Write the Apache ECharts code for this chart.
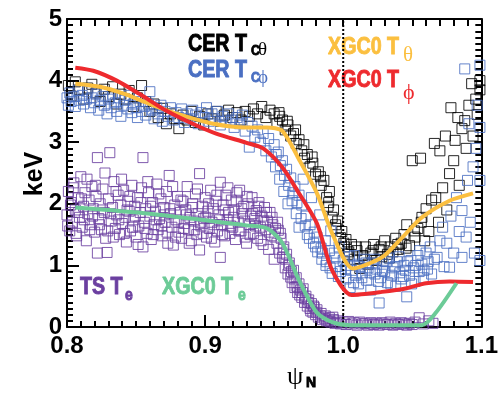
<!DOCTYPE html>
<html>
<head>
<meta charset="utf-8">
<script src="https://cdn.jsdelivr.net/npm/echarts@6/dist/echarts.min.js"></script>
<style>
html,body{margin:0;padding:0;background:#fff;}
#chart{width:501px;height:394px;}
</style>
</head>
<body>
<div id="chart"></div>
<script>
// ---- data ----
var xTicks = [0.8, 0.9, 1.0, 1.1];
var yTicks = [0, 1, 2, 3, 4, 5];
var separatrix = [[1.0, 0], [1.0, 5]];

var CER_Ttheta = [
[0.801,3.92],[0.803,3.75],[0.806,3.98],[0.809,3.85],[0.812,3.70],[0.815,3.88],[0.818,3.94],[0.821,3.80],[0.824,3.66],[0.827,3.86],
[0.830,3.74],[0.833,3.90],[0.836,3.62],[0.839,3.78],[0.842,3.70],[0.845,3.84],[0.848,3.58],[0.851,3.72],[0.854,3.92],[0.857,3.66],
[0.860,3.50],[0.863,3.62],[0.866,3.40],[0.869,3.55],[0.872,3.30],[0.875,3.46],[0.878,3.38],[0.881,3.22],[0.884,3.44],[0.887,3.36],
[0.890,3.50],[0.893,3.32],[0.896,3.42],[0.899,3.28],[0.902,3.46],[0.905,3.38],[0.908,3.50],[0.911,3.34],[0.914,3.44],[0.917,3.52],
[0.920,3.40],[0.923,3.48],[0.926,3.36],[0.929,3.50],[0.932,3.42],[0.935,3.54],[0.938,3.46],[0.941,3.58],[0.944,3.40],[0.947,3.52],
[0.950,3.46],[0.952,3.30],[0.954,3.42],[0.956,3.36],[0.958,3.20],[0.960,3.28],[0.962,3.10],[0.964,3.14],[0.966,2.98],[0.968,3.04],
[0.970,2.86],[0.972,2.74],[0.974,2.80],[0.976,2.60],[0.978,2.66],[0.980,2.48],[0.982,2.52],[0.984,2.30],[0.986,2.38],[0.988,2.10],
[0.989,1.96],[0.990,2.20],[0.992,1.78],[0.993,1.90],[0.995,1.60],[0.996,1.72],[0.998,1.45],[0.999,1.55],[1.001,1.30],[1.002,1.42],
[1.004,1.22],[1.006,1.34],[1.008,1.10],[1.010,1.24],[1.012,0.95],[1.014,1.16],[1.016,1.30],[1.018,1.02],[1.020,1.20],[1.022,1.34],
[1.024,1.08],[1.026,1.26],[1.028,1.14],[1.030,1.40],[1.032,1.18],[1.034,1.30],[1.036,1.22],[1.038,1.44],[1.040,1.26],[1.042,1.36],
[1.044,1.50],[1.046,1.66],[1.048,1.32],[1.050,2.70],[1.052,1.46],[1.054,1.60],[1.056,2.74],[1.057,1.78],[1.059,1.40],[1.060,1.92],
[1.062,1.55],[1.064,2.06],[1.066,2.98],[1.067,2.10],[1.069,1.70],[1.070,2.86],[1.072,2.26],[1.074,3.10],[1.075,1.90],[1.077,2.49],
[1.078,3.56],[1.080,2.70],[1.081,3.03],[1.083,3.40],[1.084,2.30],[1.086,3.22],[1.088,3.35],[1.089,2.90],[1.091,3.60],[1.093,3.95],
[1.094,3.10],[1.096,3.70],[1.097,3.45],[1.099,3.85],[1.099,4.00],
[0.9535,3.48],[0.9595,3.34],[0.9655,3.20],[0.9715,2.96],[0.9775,2.76],[0.9835,2.44],[0.9895,2.02],[0.9945,1.66],[1.0005,1.36],[1.0035,1.18],
[1.0095,1.30],[1.0155,1.10],[1.0215,1.24],[1.0275,1.30],[1.0335,1.12],[1.0395,1.34],[1.0455,1.28],[1.0515,1.56],[1.0565,1.70]
];

var CER_Tphi = [
[0.800,3.72],[0.801,3.60],[0.802,3.80],[0.803,3.66],[0.805,3.74],[0.806,3.58],[0.808,3.84],[0.809,3.68],[0.811,3.76],[0.812,3.62],
[0.814,3.70],[0.815,3.82],[0.817,3.56],[0.818,3.72],[0.820,3.64],[0.821,3.78],[0.823,3.52],[0.824,3.68],[0.826,3.74],[0.827,3.60],
[0.829,3.46],[0.830,3.70],[0.832,3.56],[0.833,3.78],[0.835,3.64],[0.836,3.50],[0.838,3.72],[0.839,3.42],[0.841,3.60],[0.842,3.68],
[0.844,3.54],[0.845,3.76],[0.847,3.48],[0.848,3.62],[0.850,3.56],[0.851,3.40],[0.853,3.66],[0.854,3.50],[0.856,3.58],[0.857,3.44],
[0.859,3.62],[0.860,3.82],[0.862,3.52],[0.863,3.38],[0.865,3.56],[0.866,3.46],[0.868,3.60],[0.869,3.34],[0.871,3.50],[0.873,3.42],
[0.875,3.56],[0.877,3.36],[0.879,3.48],[0.881,3.40],[0.883,3.54],[0.885,3.32],[0.887,3.46],[0.889,3.38],[0.891,3.52],[0.893,3.44],
[0.895,3.30],[0.897,3.48],[0.899,3.40],[0.901,3.56],[0.903,3.34],[0.905,3.46],[0.907,3.38],[0.909,3.50],[0.911,3.28],[0.913,3.42],
[0.915,3.34],[0.917,3.46],[0.919,3.36],[0.921,3.24],[0.923,3.40],[0.925,3.30],[0.927,3.44],[0.929,3.18],[0.931,3.32],[0.932,2.92],
[0.934,3.26],[0.936,3.08],[0.938,3.20],[0.940,3.00],[0.942,3.14],[0.944,2.86],[0.946,3.06],[0.948,2.76],[0.950,2.96],[0.951,2.60],
[0.953,2.84],[0.954,2.40],[0.956,2.70],[0.957,2.20],[0.959,2.56],[0.960,2.00],[0.962,2.42],[0.963,2.05],[0.965,2.28],[0.966,1.84],
[0.968,2.14],[0.968,1.62],[0.970,1.98],[0.971,2.40],[0.973,1.80],[0.974,1.50],[0.976,1.66],[0.977,2.10],[0.979,1.54],[0.980,1.30],
[0.981,1.46],[0.983,1.82],[0.984,1.28],[0.985,1.20],[0.987,1.40],[0.988,1.06],[0.990,1.24],[0.991,1.56],[0.992,0.87],[0.994,1.12],
[0.995,0.98],[0.997,1.30],[0.998,0.90],[1.000,1.08],[1.002,0.78],[1.003,1.00],[1.005,0.64],[1.006,0.92],[1.008,1.16],[1.009,0.84],
[1.011,0.70],[1.012,0.98],[1.014,0.88],[1.015,1.10],[1.017,0.76],[1.018,0.96],[1.020,0.60],[1.021,1.04],[1.023,0.86],[1.024,0.94],
[1.026,0.39],[1.027,0.80],[1.029,1.02],[1.030,0.90],[1.032,0.72],[1.033,1.12],[1.035,0.84],[1.036,0.96],[1.038,0.66],[1.039,1.06],
[1.041,0.88],[1.042,0.78],[1.044,1.00],[1.045,0.92],[1.046,0.49],[1.048,0.84],[1.049,1.08],[1.051,0.96],[1.052,0.74],[1.054,1.16],
[1.055,0.90],[1.057,1.02],[1.058,0.80],[1.060,1.20],[1.061,0.94],[1.063,1.30],[1.064,0.86],[1.066,1.10],[1.068,1.13],[1.070,1.40],
[1.072,1.62],[1.073,0.98],[1.075,1.36],[1.077,0.97],[1.078,1.80],[1.080,1.20],[1.082,2.10],[1.084,1.55],[1.086,1.13],[1.086,1.89],
[1.088,4.19],[1.089,1.46],[1.090,2.38],[1.091,3.30],[1.092,1.70],[1.094,2.60],[1.095,1.20],[1.096,2.90],[1.097,3.60],[1.099,3.24],
[1.099,2.38],[1.099,1.08],[1.099,4.25],
[0.9515,2.80],[0.9545,2.62],[0.9575,2.46],[0.9605,2.30],[0.9635,2.18],[0.9665,2.02],[0.9695,1.76],[0.9725,1.64],[0.9755,1.44],[0.9785,1.36],
[0.9815,1.22],[0.9845,1.10],[0.9875,1.00],[0.9905,0.96],[0.9935,1.20],[0.9965,0.82],[1.0015,0.94],[1.0045,1.14],[1.0075,0.72],[1.0105,1.02],
[1.0135,0.80],[1.0165,1.04],[1.0195,0.88],[1.0225,1.10],[1.0255,0.74],[1.0285,0.92],[1.0315,1.06],[1.0345,0.70],[1.0375,0.98],[1.0405,1.14],
[1.0435,0.82],[1.0465,1.06],[1.0495,0.70],[1.0525,1.00],[1.0555,1.24],[1.0585,0.92],[1.0615,1.06]
];

var TS_Te = [
[0.800,1.82],[0.801,2.20],[0.802,1.56],[0.803,2.02],[0.804,1.70],[0.805,2.34],[0.806,1.90],[0.807,1.48],[0.808,2.10],[0.809,1.78],
[0.810,2.44],[0.811,1.62],[0.812,1.96],[0.813,2.18],[0.814,1.40],[0.815,1.84],[0.816,2.06],[0.817,1.66],[0.818,2.28],[0.819,1.92],
[0.820,1.54],[0.821,2.12],[0.822,2.75],[0.822,1.20],[0.823,1.76],[0.824,2.00],[0.825,1.58],[0.826,2.24],[0.827,1.86],[0.828,1.44],
[0.829,1.21],[0.830,2.08],[0.831,2.83],[0.832,1.72],[0.833,1.94],[0.834,2.36],[0.835,1.60],[0.836,1.82],[0.837,2.14],[0.838,1.50],
[0.839,1.98],[0.840,1.68],[0.841,2.22],[0.842,1.78],[0.843,1.38],[0.844,2.04],[0.845,1.88],[0.846,1.56],[0.847,2.30],[0.848,1.74],
[0.849,1.96],[0.850,1.46],[0.851,2.10],[0.852,1.64],[0.853,1.86],[0.854,2.26],[0.855,2.75],[0.855,1.30],[0.856,1.70],[0.857,1.92],
[0.858,1.52],[0.859,2.18],[0.860,1.80],[0.861,1.42],[0.862,2.02],[0.863,1.66],[0.864,1.88],[0.865,2.32],[0.866,1.58],[0.867,1.76],
[0.868,2.08],[0.869,1.48],[0.870,1.94],[0.871,1.70],[0.872,2.20],[0.873,1.36],[0.874,2.46],[0.875,1.84],[0.876,1.62],[0.877,1.33],
[0.878,1.98],[0.879,1.74],[0.880,2.12],[0.881,1.54],[0.882,1.86],[0.883,1.44],[0.884,2.04],[0.885,1.68],[0.886,1.90],[0.887,2.28],
[0.888,1.58],[0.889,1.78],[0.890,1.40],[0.891,2.00],[0.892,1.72],[0.893,2.16],[0.894,1.50],[0.895,1.84],[0.896,2.49],[0.896,1.25],
[0.897,1.64],[0.898,1.96],[0.899,1.76],[0.900,2.10],[0.901,1.46],[0.902,1.88],[0.903,1.60],[0.904,2.22],[0.905,1.70],[0.906,1.92],
[0.907,1.38],[0.908,2.04],[0.909,1.56],[0.910,1.82],[0.911,2.35],[0.911,1.13],[0.912,1.66],[0.913,1.98],[0.914,1.48],[0.915,2.14],
[0.916,1.74],[0.917,1.86],[0.918,1.52],[0.919,2.06],[0.920,1.62],[0.921,1.90],[0.922,1.42],[0.923,2.18],[0.924,1.70],[0.925,2.22],
[0.926,1.56],[0.927,1.84],[0.928,1.96],[0.929,1.46],[0.930,1.36],[0.931,2.00],[0.932,1.66],[0.933,1.80],[0.934,2.10],[0.935,1.52],
[0.936,1.76],[0.937,1.89],[0.938,1.44],[0.939,2.02],[0.940,1.62],[0.941,1.80],[0.942,1.34],[0.943,1.94],[0.944,1.58],[0.945,1.72],
[0.946,1.26],[0.947,1.86],[0.948,1.48],[0.949,1.66],[0.950,1.10],[0.951,1.60],[0.952,1.36],[0.953,1.57],[0.954,1.20],[0.955,1.44],
[0.956,1.13],[0.957,1.30],[0.958,0.96],[0.959,1.18],[0.960,0.86],[0.961,1.04],[0.962,0.81],[0.963,0.72],[0.964,0.92],[0.965,0.64],
[0.966,0.80],[0.967,0.56],[0.968,0.70],[0.969,0.60],[0.970,0.48],[0.971,0.62],[0.972,0.40],[0.973,0.50],[0.974,0.34],[0.975,0.44],
[0.976,0.30],[0.977,0.38],[0.978,0.24],[0.979,0.32],[0.980,0.20],[0.981,0.28],[0.982,0.16],[0.984,0.22],[0.985,0.12],[0.987,0.18],
[0.988,0.10],[0.990,0.15],[0.991,0.08],[0.993,0.12],[0.994,0.06],[0.996,0.10],[0.998,0.05],[1.000,0.08],[1.002,0.04],[1.004,0.09],
[1.006,0.05],[1.008,0.07],[1.010,0.03],[1.012,0.08],[1.014,0.05],[1.016,0.06],[1.018,0.03],[1.020,0.07],[1.022,0.04],[1.024,0.06],
[1.026,0.03],[1.028,0.07],[1.030,0.05],[1.032,0.04],[1.034,0.08],[1.036,0.03],[1.038,0.06],[1.040,0.04],[1.042,0.07],[1.044,0.05],
[1.046,0.03],[1.048,0.06],[1.050,0.04],[1.052,0.08],[1.055,0.15],[1.058,0.05],[1.062,0.10],[1.065,0.06],
[0.8005,1.64],[0.8025,1.98],[0.8045,2.26],[0.8065,1.52],[0.8085,1.86],[0.8105,2.08],[0.8125,1.74],[0.8145,2.40],[0.8165,1.58],[0.8185,1.80],
[0.8205,2.30],[0.8235,1.66],[0.8255,1.90],[0.8275,2.50],[0.8295,1.56],[0.8315,1.84],[0.8335,1.46],[0.8355,2.20],[0.8375,1.74],[0.8395,2.40],
[0.8415,1.52],[0.8435,1.90],[0.8455,2.12],[0.8475,1.62],[0.8495,1.80],[0.8515,1.34],[0.8535,2.02],[0.8565,1.60],[0.8585,2.36],[0.8605,1.96],
[0.8625,1.50],[0.8645,1.74],[0.8665,2.16],[0.8685,1.64],[0.8705,1.82],[0.8725,1.54],[0.8745,1.92],[0.8765,2.28],[0.8785,1.46],[0.8805,1.70],
[0.8825,2.06],[0.8845,1.60],[0.8865,1.82],[0.8885,1.36],[0.8905,1.94],[0.8925,1.58],[0.8945,2.24],[0.8965,1.70],[0.8985,1.52],[0.9005,1.78],
[0.9025,2.00],[0.9045,1.44],[0.9065,1.66],[0.9085,2.14],[0.9105,1.74],[0.9125,1.50],[0.9145,1.90],[0.9165,2.26],[0.9185,1.64],[0.9205,1.78],
[0.9225,2.04],[0.9245,1.56],[0.9265,1.92],[0.9285,1.72],[0.9305,2.12],[0.9325,1.50],[0.9345,1.84],[0.9365,1.64],[0.9385,1.96],[0.9405,1.40],
[0.9425,1.72],[0.9445,1.86],[0.9465,1.54],[0.9485,1.78],[0.9505,1.46],[0.9525,1.70],[0.9545,1.52],[0.9565,1.26],[0.9585,1.10],[0.9605,1.00],
[0.9625,0.90],[0.9645,0.78],[0.9665,0.66],[0.9685,0.52],[0.9705,0.56],[0.9725,0.46],[0.9745,0.40],[0.9765,0.26],[0.9785,0.34],[0.9805,0.24],
[0.9835,0.18],[0.9865,0.14],[0.9895,0.10],[0.9925,0.16],[0.9955,0.07]
];

var XGC0_Ttheta = [[0.806,3.95],[0.824,3.90],[0.842,3.78],[0.860,3.62],[0.880,3.46],[0.906,3.30],[0.930,3.24],[0.945,3.24],[0.956,3.18],[0.968,2.72],[0.981,2.17],[0.992,1.52],[1.007,0.95],[1.028,1.13],[1.043,1.46],[1.057,1.78],[1.077,2.05],[1.094,2.17]];
var XGC0_Tphi = [[0.806,4.21],[0.819,4.16],[0.836,4.00],[0.852,3.79],[0.872,3.51],[0.891,3.30],[0.908,3.14],[0.930,2.99],[0.942,2.90],[0.956,2.59],[0.968,2.17],[0.981,1.68],[0.992,0.92],[1.006,0.52],[1.028,0.57],[1.046,0.63],[1.060,0.71],[1.077,0.74],[1.094,0.73]];
var XGC0_Te = [[0.806,1.94],[0.860,1.84],[0.930,1.65],[0.945,1.60],[0.956,1.36],[0.968,0.76],[0.981,0.23],[0.992,0.08],[1.005,0.03],[1.057,0.03],[1.067,0.23],[1.082,0.71]];

// ---- chart ----
var SANS = "'Liberation Sans',Arial,Helvetica,sans-serif";
var SERIF = "'Liberation Serif','DejaVu Serif',serif";
var colors = {black:'#000000', blue:'#4a6fc2', purple:'#6b3fa0', yellow:'#fbbf3f', red:'#ee2a2e', green:'#6ccb97'};

function axisBase(extra) {
  var o = {
    type: 'value',
    axisLine: {show: true, onZero: false, lineStyle: {color: '#000', width: 2}},
    axisTick: {show: true, inside: true, length: 12, lineStyle: {color: '#000', width: 2}},
    minorTick: {show: true, splitNumber: 10, length: 6, lineStyle: {color: '#000', width: 2}},
    splitLine: {show: false},
    minorSplitLine: {show: false}
  };
  for (var k in extra) o[k] = extra[k];
  return o;
}
var labelStyle = {color: '#000', fontFamily: SANS, fontWeight: 'bold', fontSize: 24};

function scatter(name, data, color, opacity) {
  return {
    name: name, type: 'scatter', data: data, symbol: 'rect', symbolSize: 10,
    xAxisIndex: 0, yAxisIndex: 0, silent: true,
    itemStyle: {color: 'rgba(0,0,0,0)', borderColor: color, borderWidth: 1, opacity: opacity}
  };
}
function line(name, data, color) {
  return {
    name: name, type: 'line', data: data, showSymbol: false, smooth: 0.25,
    xAxisIndex: 0, yAxisIndex: 0, silent: true,
    lineStyle: {color: color, width: 4}
  };
}
function txt(x, y, text, color, size, family, bold, sx) {
  var st = {text: text, fill: color, font: (bold ? 'bold ' : '') + size + 'px ' + family, align: 'left', verticalAlign: 'middle'};
  if (bold) { st.stroke = color; st.lineWidth = 0.9; }
  return {type: 'text', x: x, y: y, scaleX: sx || 1, style: st};
}

var option = {
  animation: false,
  backgroundColor: '#fff',
  grid: {left: 67, right: 18, top: 19, bottom: 67, containLabel: false},
  xAxis: [
    axisBase({position: 'bottom', min: xTicks[0], max: xTicks[xTicks.length-1], interval: 0.1,
      axisLabel: Object.assign({margin: 7, formatter: function(v){return v.toFixed(1);}}, labelStyle)}),
    axisBase({position: 'top', min: xTicks[0], max: xTicks[xTicks.length-1], interval: 0.1, axisLabel: {show: false},
      axisTick: {show: true, inside: true, length: 7, lineStyle: {color: '#000', width: 2}},
      minorTick: {show: true, splitNumber: 10, length: 7, lineStyle: {color: '#000', width: 2}}})
  ],
  yAxis: [
    axisBase({position: 'left', min: yTicks[0], max: yTicks[yTicks.length-1], interval: 1,
      axisLabel: Object.assign({margin: 5}, labelStyle)}),
    axisBase({position: 'right', min: yTicks[0], max: yTicks[yTicks.length-1], interval: 1, axisLabel: {show: false},
      axisTick: {show: true, inside: true, length: 7, lineStyle: {color: '#000', width: 2}}})
  ],
  series: [
    {name: 'sep', type: 'line', data: separatrix, showSymbol: false, silent: true,
     lineStyle: {color: '#000', width: 2, type: [2, 2]}},
    scatter('CER T_Ctheta', CER_Ttheta, colors.black, 0.85),
    scatter('CER T_Cphi', CER_Tphi, colors.blue, 0.85),
    scatter('TS T_e', TS_Te, colors.purple, 0.85),
    line('XGC0 T_theta', XGC0_Ttheta, colors.yellow),
    line('XGC0 T_phi', XGC0_Tphi, colors.red),
    line('XGC0 T_e', XGC0_Te, colors.green)
  ],
  graphic: [
    {type: 'text', x: 35, y: 174, rotation: Math.PI/2,
     style: {text: 'keV', fill: '#000', font: 'bold 25px ' + SANS, align: 'center', verticalAlign: 'middle'}},
    txt(287, 377, 'ψ', '#000', 26, SERIF, false),
    txt(306, 383, 'N', '#000', 14, SANS, true),
    txt(188, 44, 'CER T', colors.black, 24, SANS, true, 0.82),
    txt(251, 51, 'C', colors.black, 15, SANS, true, 0.82),
    txt(258, 50, 'θ', colors.black, 19, SERIF, false),
    txt(188, 70, 'CER T', colors.blue, 24, SANS, true, 0.82),
    txt(251, 78, 'C', colors.blue, 15, SANS, true, 0.82),
    txt(258, 78, 'ϕ', colors.blue, 19, SERIF, false),
    txt(328, 47, 'XGC0 T', colors.yellow, 24, SANS, true, 0.82),
    txt(403, 55, 'θ', colors.yellow, 21, SERIF, false),
    txt(328, 80, 'XGC0 T', colors.red, 24, SANS, true, 0.82),
    txt(403, 93, 'ϕ', colors.red, 22, SERIF, false),
    txt(80, 287, 'TS T', colors.purple, 24, SANS, true, 0.82),
    txt(125, 295, 'e', colors.purple, 17, SANS, true, 0.82),
    txt(162, 287, 'XGC0 T', colors.green, 24, SANS, true, 0.82),
    txt(238, 295, 'e', colors.green, 17, SANS, true, 0.82)
  ]
};

var chart = echarts.init(document.getElementById('chart'), null, {renderer: 'canvas'});
chart.setOption(option);
</script>
</body>
</html>
